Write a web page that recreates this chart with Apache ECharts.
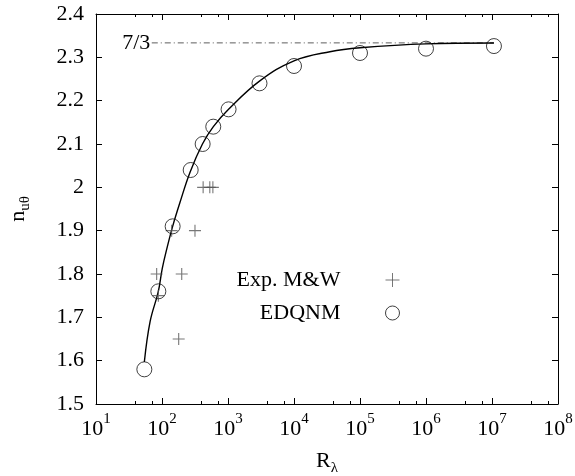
<!DOCTYPE html>
<html lang="en">
<head>
    <meta charset="UTF-8">
    <title>n_utheta vs R_lambda</title>
    <style>
        html, body { margin: 0; padding: 0; background: #fff; }
        #main { width: 575px; height: 476px; }
    </style>
</head>
<body>
    <div id="main"></div>
    <script src="https://cdn.jsdelivr.net/npm/echarts@6/dist/echarts.min.js"></script>
    <script>
        // EDQNM points
        var edqnmR = [54, 88, 145, 272, 413, 598, 1020, 3000, 1e4, 1e5, 1e6, 1.07e7];
        var edqnmN = [1.58, 1.76, 1.91, 2.04, 2.10, 2.14, 2.18, 2.24, 2.28, 2.31, 2.32, 2.326];
        // Exp. M&W points
        var expR = [83, 88, 140, 179, 199, 316, 420, 530, 590];
        var expN = [1.80, 1.75, 1.90, 1.65, 1.80, 1.90, 2.00, 2.00, 2.00];
        // solid fitted curve
        var fitR = [54, 66, 88, 101, 120, 145, 187, 266, 410, 600, 1020, 3000, 1e4, 3.5e4, 1e5, 1e6, 1.07e7];
        var fitN = [1.597, 1.69, 1.76, 1.813, 1.862, 1.91, 1.965, 2.035, 2.10, 2.14, 2.18, 2.245, 2.292, 2.313, 2.322, 2.331, 2.333];
        // 7/3 reference line
        var refR = [70, 1.07e7];
        var refN = [7 / 3, 7 / 3];

        function pairs(xs, ys) {
            return xs.map(function (x, i) { return [x, ys[i]]; });
        }

        var serif = "Liberation Serif";
        var black = "#000";

        var myChart = echarts.init(document.getElementById("main"));
        var option = {
            backgroundColor: "#fff",
            animation: false,
            textStyle: { fontFamily: serif, color: black },
            grid: { left: 96, right: 17, top: 14, bottom: 72, outerBoundsMode: "none", containLabel: false },
            legend: {
                orient: "vertical",
                align: "right",
                right: 168,
                top: 264,
                itemGap: 11,
                itemWidth: 14,
                itemHeight: 14,
                itemStyle: { borderWidth: 1 },
                textStyle: { fontFamily: serif, fontSize: 22, lineHeight: 22, color: black, padding: [0, 40, 0, 0] },
                data: ["Exp. M&W", "EDQNM"]
            },
            xAxis: [{
                type: "log",
                logBase: 10,
                min: 10,
                max: 1e8,
                splitNumber: 7,
                name: "{n|R}{s|λ}",
                nameLocation: "middle",
                nameGap: 46,
                nameTextStyle: {
                    rich: {
                        n: { fontFamily: serif, fontSize: 22, color: black, verticalAlign: "top", lineHeight: 26 },
                        s: { fontFamily: serif, fontSize: 15, color: black, verticalAlign: "bottom", lineHeight: 26, padding: [8, 0, 0, 0] }
                    }
                },
                axisLine: { lineStyle: { color: black, width: 1 } },
                axisTick: { inside: true, length: 6, lineStyle: { color: black } },
                minorTick: { show: true, splitNumber: 3, length: 3, lineStyle: { color: black } },
                splitLine: { show: false },
                axisLabel: {
                    margin: 8,
                    formatter: function (v) {
                        return "{b|10}{s|" + Math.round(Math.log10(v)) + "}";
                    },
                    rich: {
                        b: { fontFamily: serif, fontSize: 22, color: black, verticalAlign: "bottom", lineHeight: 28 },
                        s: { fontFamily: serif, fontSize: 15, color: black, verticalAlign: "top", lineHeight: 28 }
                    }
                }
            }, {
                type: "log",
                logBase: 10,
                min: 10,
                max: 1e8,
                splitNumber: 7,
                position: "top",
                axisLine: { lineStyle: { color: black, width: 1 } },
                axisTick: { inside: true, length: 6, lineStyle: { color: black } },
                minorTick: { show: true, splitNumber: 3, length: 3, lineStyle: { color: black } },
                splitLine: { show: false },
                axisLabel: { show: false }
            }],
            yAxis: [{
                type: "value",
                min: 1.5,
                max: 2.4,
                interval: 0.1,
                name: "{n|n}{s|uθ}",
                nameLocation: "middle",
                nameRotate: 90,
                nameGap: 63,
                nameTextStyle: {
                    rich: {
                        n: { fontFamily: serif, fontSize: 22, color: black, verticalAlign: "top", lineHeight: 26 },
                        s: { fontFamily: serif, fontSize: 15, color: black, verticalAlign: "bottom", lineHeight: 26, padding: [8, 0, 0, 0] }
                    }
                },
                axisLine: { show: true, lineStyle: { color: black, width: 1 } },
                axisTick: { show: true, inside: true, length: 6, lineStyle: { color: black } },
                splitLine: { show: false },
                axisLabel: {
                    margin: 12,
                    fontFamily: serif,
                    fontSize: 22,
                    color: black
                }
            }, {
                type: "value",
                min: 1.5,
                max: 2.4,
                interval: 0.1,
                position: "right",
                axisLine: { show: true, lineStyle: { color: black, width: 1 } },
                axisTick: { show: true, inside: true, length: 6, lineStyle: { color: black } },
                splitLine: { show: false },
                axisLabel: { show: false }
            }],
            series: [{
                name: "fit",
                type: "line",
                smooth: 0.4,
                showSymbol: false,
                symbol: "none",
                lineStyle: { color: black, width: 1.4 },
                data: pairs(fitR, fitN),
                z: 3
            }, {
                name: "7/3",
                type: "line",
                symbol: "circle",
                symbolSize: 1,
                showSymbol: true,
                itemStyle: { color: "rgba(0,0,0,0)" },
                lineStyle: { color: "#333", width: 0.8, type: [6, 3, 1, 3] },
                data: pairs(refR, refN).map(function (p, i) {
                    return i === 0 ? {
                        value: p,
                        label: {
                            show: true,
                            position: "left",
                            distance: 1,
                            formatter: "7/3",
                            fontFamily: serif,
                            fontSize: 22,
                            color: black
                        }
                    } : p;
                }),
                z: 2
            }, {
                name: "Exp. M&W",
                type: "scatter",
                symbol: "path://M0,5L10,5M5,0L5,10",
                symbolSize: 12,
                itemStyle: { color: "none", borderColor: "#555", borderWidth: 1.1 },
                data: pairs(expR, expN),
                z: 4
            }, {
                name: "EDQNM",
                type: "scatter",
                symbol: "circle",
                symbolSize: 15,
                itemStyle: { color: "rgba(0,0,0,0)", borderColor: "#111", borderWidth: 1 },
                data: pairs(edqnmR, edqnmN),
                z: 5
            }]
        };
        myChart.setOption(option, true);
    </script>
</body>
</html>
